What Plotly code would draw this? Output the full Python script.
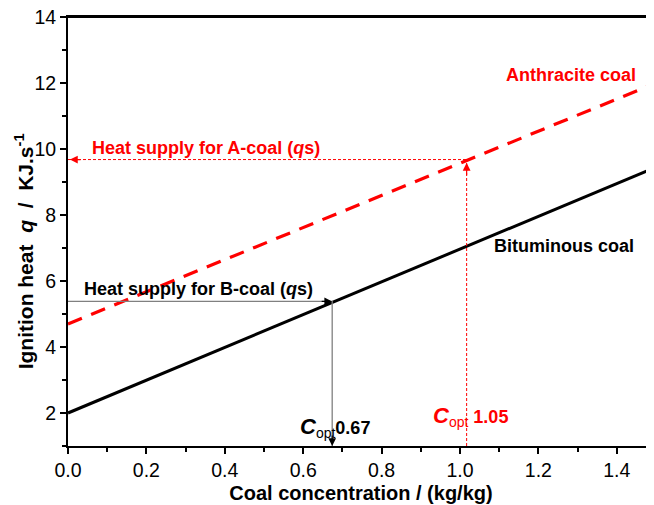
import plotly.graph_objects as go

# ---- data ----
x_ends = [0.0, 1.5]
bituminous = [2.0, 9.45]
anthracite = [4.7, 12.0]
copt_b = 0.674
copt_a = 1.017
qs_b = 5.38
qs_a = 9.68
y_floor = 1.0
x_ticks = [0.0, 0.2, 0.4, 0.6, 0.8, 1.0, 1.2, 1.4]
y_ticks = [2, 4, 6, 8, 10, 12, 14]

FONT = "Liberation Sans, Arial, sans-serif"
RED = "#ff0000"
NB = "\u00a0"

fig = go.Figure()

# main lines
fig.add_trace(go.Scatter(x=x_ends, y=bituminous, mode="lines",
                         line=dict(color="black", width=3), showlegend=False))
fig.add_trace(go.Scatter(x=x_ends, y=anthracite, mode="lines",
                         line=dict(color=RED, width=3.2, dash="15px,10px"), showlegend=False))

# heat supply B (gray)
fig.add_trace(go.Scatter(x=[0, copt_b, copt_b], y=[qs_b, qs_b, y_floor], mode="lines",
                         line=dict(color="#808080", width=1.3), showlegend=False))
# heat supply A (red dotted)
fig.add_trace(go.Scatter(x=[0, copt_a], y=[qs_a, qs_a], mode="lines",
                         line=dict(color=RED, width=1, dash="3px,2px"), showlegend=False))
fig.add_trace(go.Scatter(x=[copt_a, copt_a], y=[y_floor, qs_a], mode="lines",
                         line=dict(color=RED, width=1, dash="3px,2px"), showlegend=False))

ann = []
def arrow(x, y, ax, ay, color):
    ann.append(dict(x=x, y=y, xref="x", yref="y", ax=ax, ay=ay, text="",
                    showarrow=True, arrowhead=2, arrowsize=1.3, arrowwidth=1.2,
                    arrowcolor=color, standoff=0))

arrow(0.005, qs_a, 12, 0, RED)
arrow(copt_a, qs_a - 0.1, 0, 14, RED)
arrow(copt_b, qs_b, -12, 0, "black")
arrow(copt_b, y_floor, 0, -12, "black")

def label(x, y, text, color, size=18, xanchor="left"):
    ann.append(dict(x=x, y=y, xref="x", yref="y", text=text, showarrow=False,
                    xanchor=xanchor, yanchor="middle",
                    font=dict(family=FONT, size=size, color=color)))

BIGC = "<span style='font-size:22px'><b><i>C</i></b></span>"
SUB = "<sub><span style='font-size:14px'>opt</span></sub>"
label(1.454, 12.23, "<b>Anthracite coal</b>", RED, 18, "right")
label(0.056, 10.02, "<b>Heat supply for A-coal (<i>q</i>s)</b>", RED, 18)
label(0.036, 5.75, "<b>Heat supply for B-coal (<i>q</i>s)</b>", "black", 18)
label(1.082, 7.05, "<b>Bituminous coal</b>", "black", 18)
label(0.588, 1.55, BIGC + SUB + "<b>0.67</b>", "black", 18)
label(0.927, 1.9, BIGC + SUB + "<b>" + NB + "1.05</b>", RED, 18)

# y axis title as a rotated annotation
ann.append(dict(x=-0.075, y=6.9, xref="paper", yref="y", xanchor="center", yanchor="middle",
                textangle=-90, showarrow=False,
                text=f"<b>Ignition heat{NB}{NB}<i>q</i>{NB}{NB}/{NB}{NB}KJ.s<sup>-1</sup></b>",
                font=dict(family=FONT, size=21, color="black")))

fig.update_layout(
    width=654, height=505,
    margin=dict(l=60, r=8, t=9, b=67),
    plot_bgcolor="white", paper_bgcolor="white",
    font=dict(family=FONT, size=15, color="black"),
    annotations=ann,
    shapes=[dict(type="line", xref="paper", yref="paper", x0=0, x1=1, y0=1, y1=1,
                 line=dict(color="black", width=2))],
    xaxis=dict(range=[0, 1.495], tickvals=x_ticks, ticktext=[f"{v:.1f}" for v in x_ticks],
               showgrid=False, zeroline=False, showline=True, linecolor="black", linewidth=2,
               mirror=True, ticks="outside", ticklen=6, tickwidth=1.5, tickcolor="black",
               minor=dict(dtick=0.1, ticks="outside", ticklen=4, tickwidth=1.5, tickcolor="black"),
               tickfont=dict(size=19.5), ticklabeloverflow="allow",
               title=dict(text="<b>Coal concentration / (kg/kg)</b>", font=dict(size=20), standoff=6),
               automargin=False),
    yaxis=dict(range=[1, 14], tickvals=y_ticks,
               showgrid=False, zeroline=False, showline=True, linecolor="black", linewidth=2,
               ticks="outside", ticklen=6, tickwidth=1.5, tickcolor="black",
               minor=dict(dtick=1, ticks="outside", ticklen=4, tickwidth=1.5, tickcolor="black"),
               tickfont=dict(size=19.5), ticklabeloverflow="allow",
               automargin=False),
)

fig.write_html("out.html")
